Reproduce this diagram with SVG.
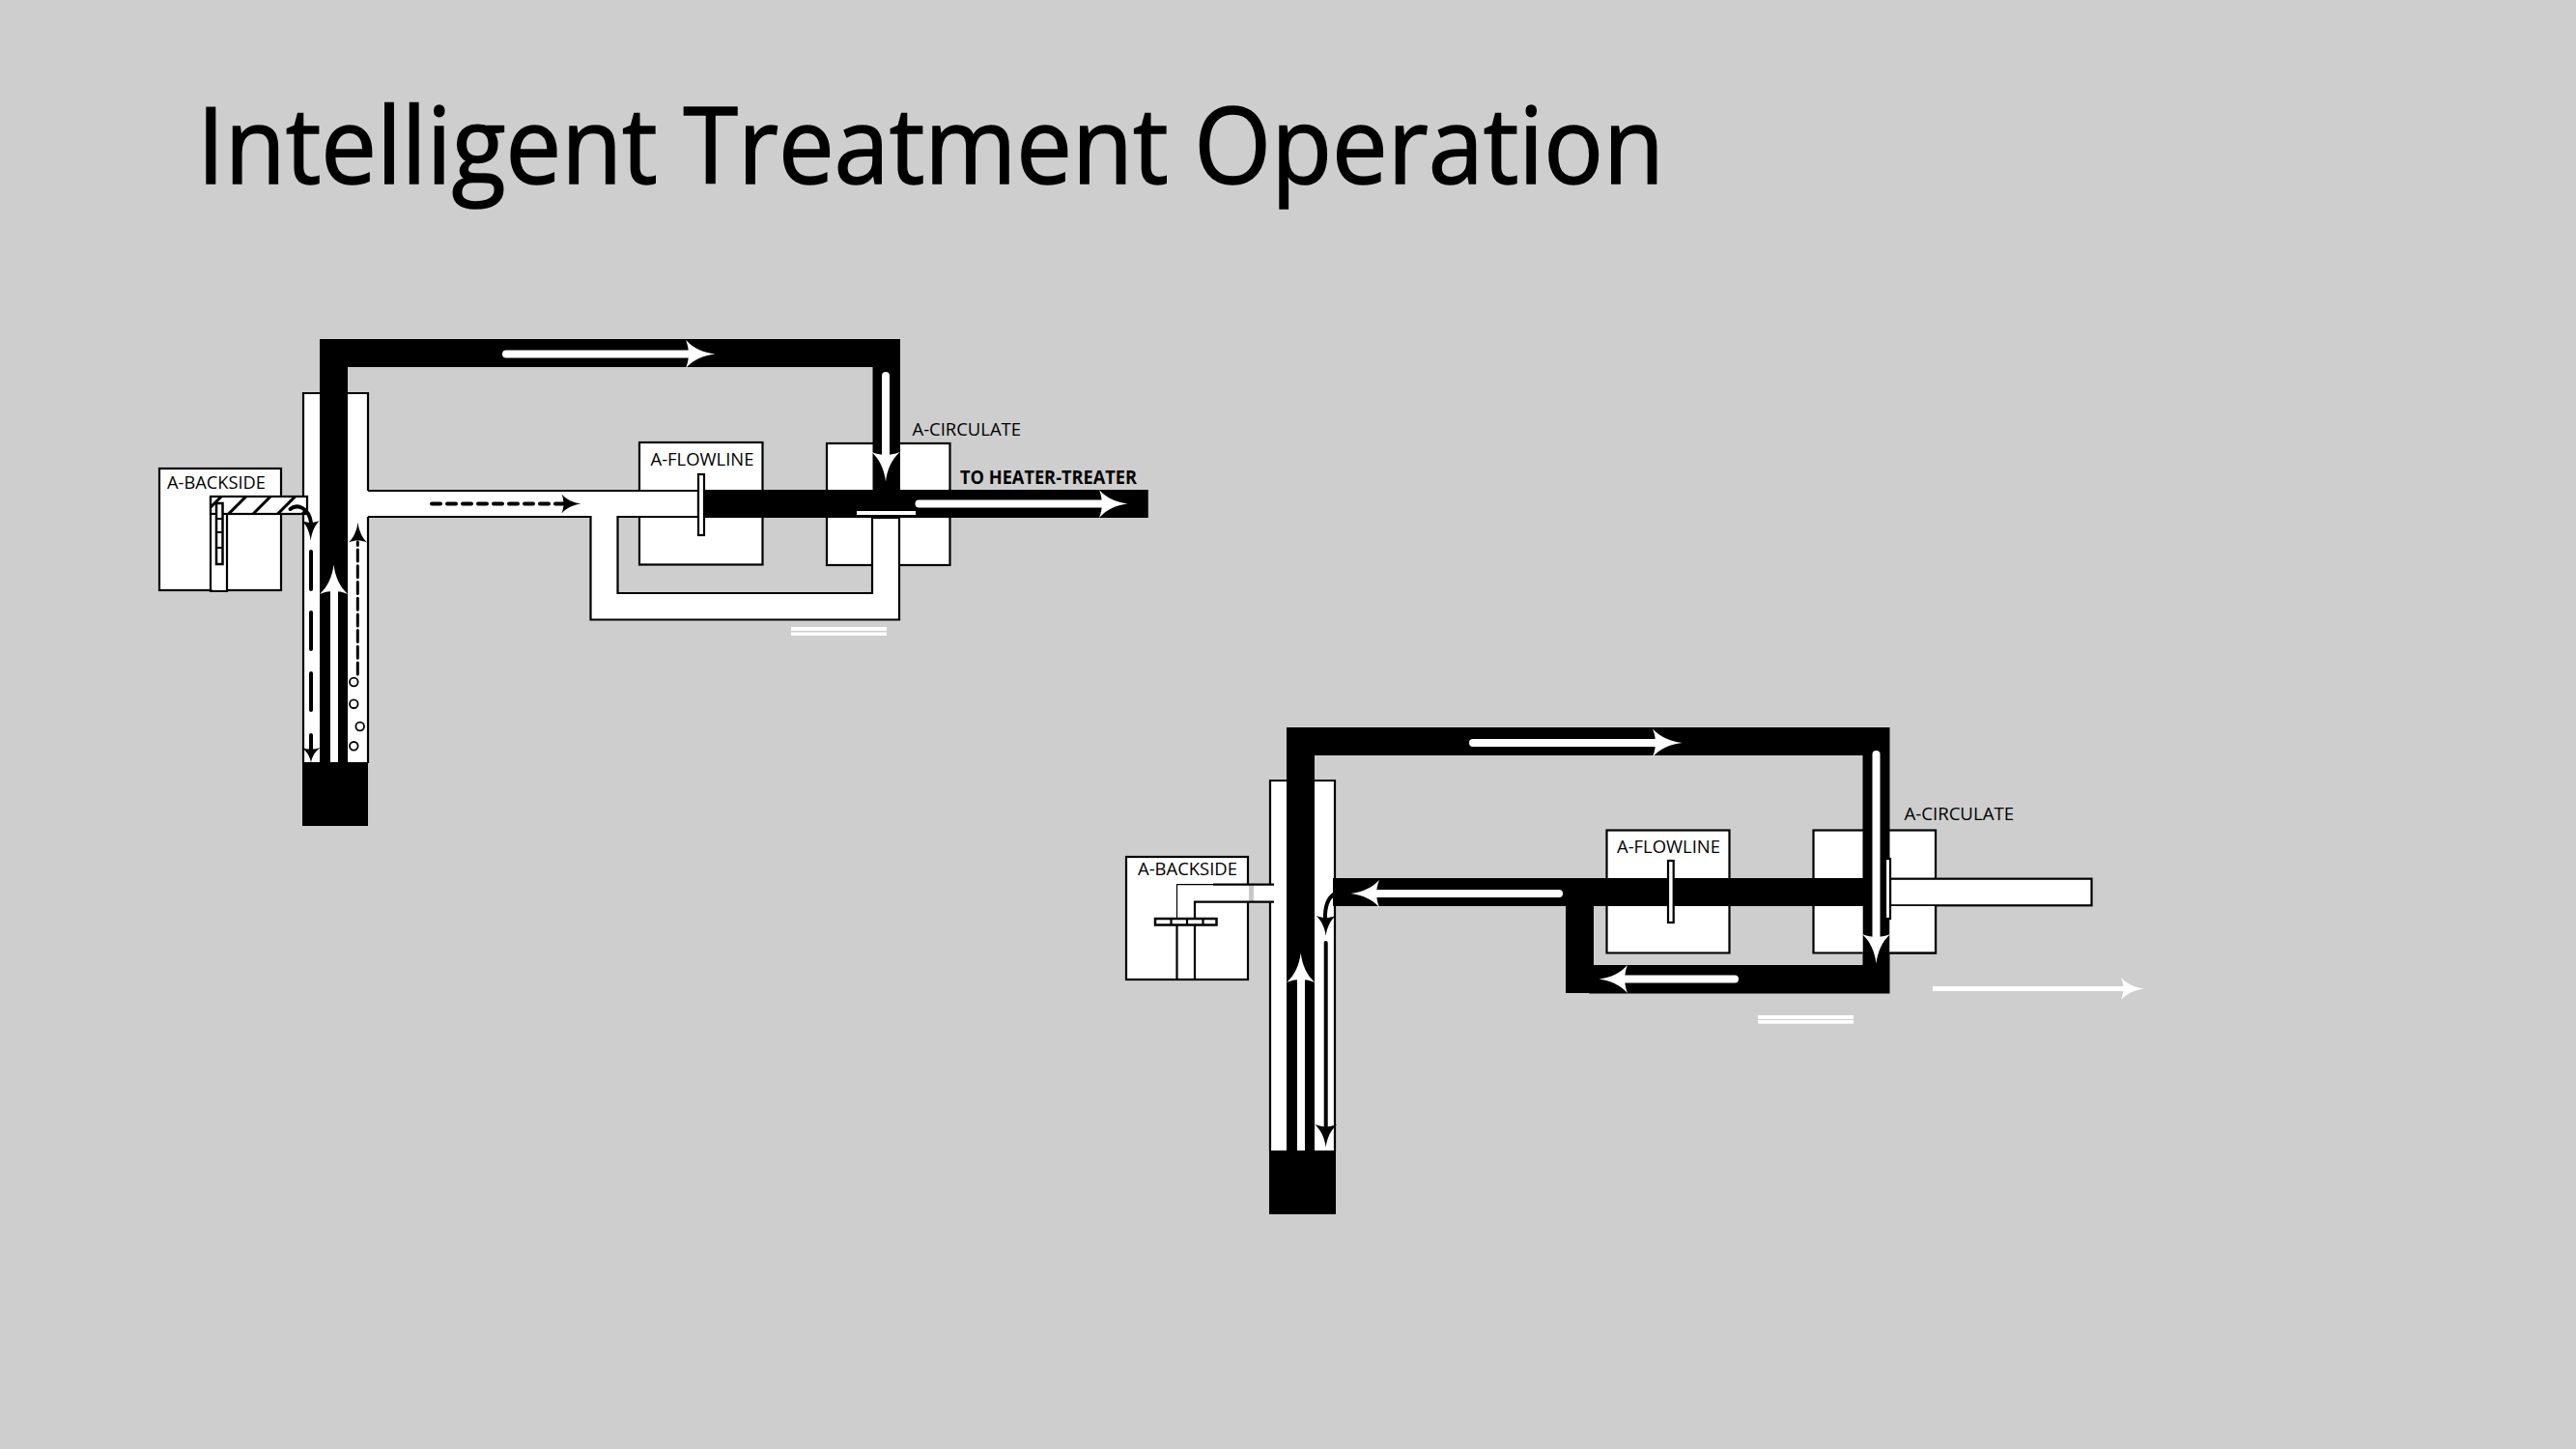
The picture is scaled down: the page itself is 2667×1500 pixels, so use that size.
<svg xmlns="http://www.w3.org/2000/svg" width="2667" height="1500" viewBox="0 0 2667 1500">
<style>
text{font-family:"Open Sans","Noto Sans","Liberation Sans",sans-serif;fill:#000;font-variant-ligatures:none}
#title{stroke:#000;stroke-width:1.6}
.lb{font-size:19px}
.box{fill:#fff;stroke:#000;stroke-width:2.2}
.fillw{fill:#fff}
.k{fill:#000}
.ln{fill:none;stroke:#000;stroke-width:2.2}
.wl{fill:none;stroke:#fff;stroke-width:8;stroke-linecap:round}
.bt{stroke-linecap:butt}
.kl{fill:none;stroke:#000;stroke-width:4;stroke-linecap:round}
.dbl{fill:#fff}
.rod{fill:#fff;stroke:#000;stroke-width:2.2}
.ring{fill:none;stroke:#000;stroke-width:1.8}
</style>
<defs>
<path id="h" d="M1.05 0C.62 .1 .25 .45 0 1C.08 .6 .1 .3 .1 0C.1 -.3 .08 -.6 0 -1C.25 -.45 .62 -.1 1.05 0Z"/>
<pattern id="hatch" width="18" height="18" patternUnits="userSpaceOnUse" patternTransform="rotate(45)">
<rect width="18" height="18" fill="#fff"/>
<rect x="2" y="0" width="3" height="18" fill="#000"/>
</pattern>
</defs>
<rect width="2667" height="1500" fill="#cecece"/>
<text id="title" x="204" y="190" font-size="110" textLength="1519" lengthAdjust="spacingAndGlyphs">Intelligent Treatment Operation</text>

<g id="left-backside">
<rect class="box" x="165" y="485" width="126" height="126"/>
<text class="lb" x="173" y="506" textLength="102" lengthAdjust="spacingAndGlyphs">A-BACKSIDE</text>
</g>
<g id="left-flowline">
<rect class="box" x="662" y="458" width="127.500" height="126.500"/>
<text class="lb" x="673.500" y="482" textLength="107" lengthAdjust="spacingAndGlyphs">A-FLOWLINE</text>
</g>
<g id="left-circulate">
<rect class="box" x="856" y="459" width="127.500" height="126"/>
<text class="lb" x="944.500" y="451" textLength="112.500" lengthAdjust="spacingAndGlyphs">A-CIRCULATE</text>
</g>
<g id="left-well">
<rect class="fillw" x="314" y="407" width="67" height="383"/>
<path class="ln" d="M381 508V407H314V790M381 535V790"/>
<rect class="k" x="313" y="789" width="68" height="66"/>
</g>
<g id="left-heater-label">
<text x="994" y="501" font-size="19" font-weight="700" textLength="183" lengthAdjust="spacingAndGlyphs">TO HEATER-TREATER</text>
</g>

<g id="left-connectors">
<path class="fillw" d="M379 508H723V535H639.500V614H903V536H931V641.500H611.500V535H379Z"/>
<path class="ln" d="M381 508H723V535H639.500V614H903V536H931V641.500H611.500V535H381"/>
<path class="k" d="M331 351H932V536H1188.500V507H903.500V380H360V789H331Z"/>
<rect class="k" x="729" y="507" width="459.500" height="29"/>
<rect class="rod" x="723" y="491" width="6" height="63"/>
<rect class="fillw" x="887" y="529" width="61" height="4"/>
<rect class="dbl" x="819" y="649" width="99" height="4"/>
<rect class="dbl" x="819" y="654.500" width="99" height="3.500"/>
<path class="wl" d="M524 366.500H715"/><use href="#h" class="fillw" transform="translate(710,366.500) scale(29,14.500)"/>
<path class="wl" d="M917 389V472"/><use href="#h" class="fillw" transform="translate(917,468) rotate(90) scale(29,14.500)"/>
<path class="wl" d="M951.500 521.500H1142"/><use href="#h" class="fillw" transform="translate(1138,521.500) scale(28,14.500)"/>
<path class="wl bt" d="M346 789V610"/><use href="#h" class="fillw" transform="translate(345.500,615) rotate(-90) scale(29,14.500)"/>
<path class="kl" d="M447 521.500H585" stroke-dasharray="9 7"/><use href="#h" class="k" transform="translate(581.500,521.500) scale(19,10)"/>
<path class="kl bt" style="stroke-width:3" d="M370.300 698V561" stroke-dasharray="12 4.700"/><use href="#h" class="k" transform="translate(370.500,561.500) rotate(-90) scale(20,9.500)"/>
<circle class="ring" cx="366.300" cy="706" r="4.300"/><circle class="ring" cx="366.300" cy="728.700" r="4.300"/><circle class="ring" cx="372.700" cy="752" r="4.300"/><circle class="ring" cx="366.300" cy="772.300" r="4.300"/>
<path class="kl" d="M322 571V610M322 634V672M322 697V735M322 761V778"/><use href="#h" class="k" transform="translate(322,774) rotate(90) scale(15,9.500)"/>
<rect x="218" y="514" width="100" height="18" fill="url(#hatch)" stroke="#000" stroke-width="2.200"/>
<path class="fillw" d="M219.500 533H234V612H219.500Z"/>
<path class="ln" d="M218 514V612H235V531"/>
<rect class="rod" x="224" y="521" width="6.500" height="63" style="stroke-width:2.500"/>
<path class="ln" d="M224 537H230.500M224 551H230.500M224 567H230.500"/>
<path class="kl" d="M300.500 527C308 521 320 526 322 541"/><use href="#h" class="k" transform="translate(321.700,539) rotate(90) scale(20,9)"/>
</g>

<g id="right-backside">
<rect class="box" x="1166" y="887" width="126" height="127"/>
<text class="lb" x="1178" y="906" textLength="103" lengthAdjust="spacingAndGlyphs">A-BACKSIDE</text>
</g>
<g id="right-flowline">
<rect class="box" x="1663.500" y="859.500" width="127" height="127"/>
<text class="lb" x="1674" y="883" textLength="107" lengthAdjust="spacingAndGlyphs">A-FLOWLINE</text>
</g>
<g id="right-circulate">
<rect class="box" x="1877.500" y="859.500" width="126.500" height="127"/>
<text class="lb" x="1971.500" y="849" textLength="113.500" lengthAdjust="spacingAndGlyphs">A-CIRCULATE</text>
</g>
<g id="right-well">
<rect class="fillw" x="1315" y="808" width="67" height="384"/>
<path class="ln" d="M1382 1192V808H1315V1192"/>
<rect class="k" x="1314" y="1191" width="69" height="66"/>
</g>

<g id="right-connectors">
<rect class="fillw" x="1219" y="916" width="74" height="18"/>
<rect class="fillw" x="1298" y="916" width="21" height="18"/>
<rect x="1293" y="916.500" width="5" height="17" fill="#c8c8c8"/>
<rect x="1314" y="917" width="3" height="16" fill="#fff"/>
<path class="ln" d="M1256 915.700H1319M1237 1014V933.700H1319"/>
<path fill="none" stroke="#000" stroke-width="1.200" d="M1218.500 951V915.700H1256"/>
<path class="ln" d="M1218.500 957V1014"/>
<rect class="rod" x="1196" y="951" width="63.500" height="6.500" style="stroke-width:2.500"/>
<path class="ln" d="M1212.500 951V957M1229 951V957M1245.500 951V957"/>
<path class="k" d="M1332 753H1956.500V1028.500H1645V1028H1621V938H1380V909H1928.500V782H1361V1191H1332Z"/>
<path fill="#cecece" d="M1650 938H1928.500V999H1650Z"/>
<rect class="fillw" x="1663.500" y="938" width="127" height="47.500"/>
<rect class="fillw" x="1877.500" y="938" width="51" height="47.500"/>
<path class="ln" d="M1663.500 938V986.500H1790.500V938M1877.500 938V986.500H1928.500"/>
<rect class="box" x="1957" y="909.700" width="208.500" height="27.600"/>
<path class="fillw" d="M1956.500 938H2003V985.500H1956.500Z"/>
<path class="ln" d="M1957 986.500H2004V938"/>
<rect class="rod" x="1727" y="891" width="5.700" height="64"/>
<path class="wl" d="M1942.500 781V972"/><use href="#h" class="fillw" transform="translate(1942.500,967) rotate(90) scale(29,14.500)"/>
<rect class="rod" x="1952" y="889" width="5" height="62"/>
<path class="wl" d="M1525 769H1716"/><use href="#h" class="fillw" transform="translate(1711,769) scale(29,14.500)"/>
<path class="wl" d="M1796 1013.500H1680"/><use href="#h" class="fillw" transform="translate(1685,1013.500) rotate(180) scale(28,14.500)"/>
<path class="wl" d="M1614 925H1423"/><use href="#h" class="fillw" transform="translate(1428,925) rotate(180) scale(28,14)"/>
<path class="wl bt" style="stroke-width:5" d="M2001 1023.500H2200"/><use href="#h" class="fillw" transform="translate(2196,1023.500) scale(23,11.500)"/>
<rect class="dbl" x="1820" y="1051" width="99" height="4"/>
<rect class="dbl" x="1820" y="1056" width="99" height="3.700"/>
<path class="wl bt" d="M1347 1191V1012"/><use href="#h" class="fillw" transform="translate(1346.700,1017) rotate(-90) scale(29,14.500)"/>
<path class="kl bt" d="M1372.700 976V1168"/><use href="#h" class="k" transform="translate(1372.700,1164) rotate(90) scale(22.500,11.500)"/>
<path class="kl" d="M1382 925C1374 930 1371.500 940 1372 952"/><use href="#h" class="k" transform="translate(1372.700,948) rotate(90) scale(20,10)"/>
</g>
</svg>
